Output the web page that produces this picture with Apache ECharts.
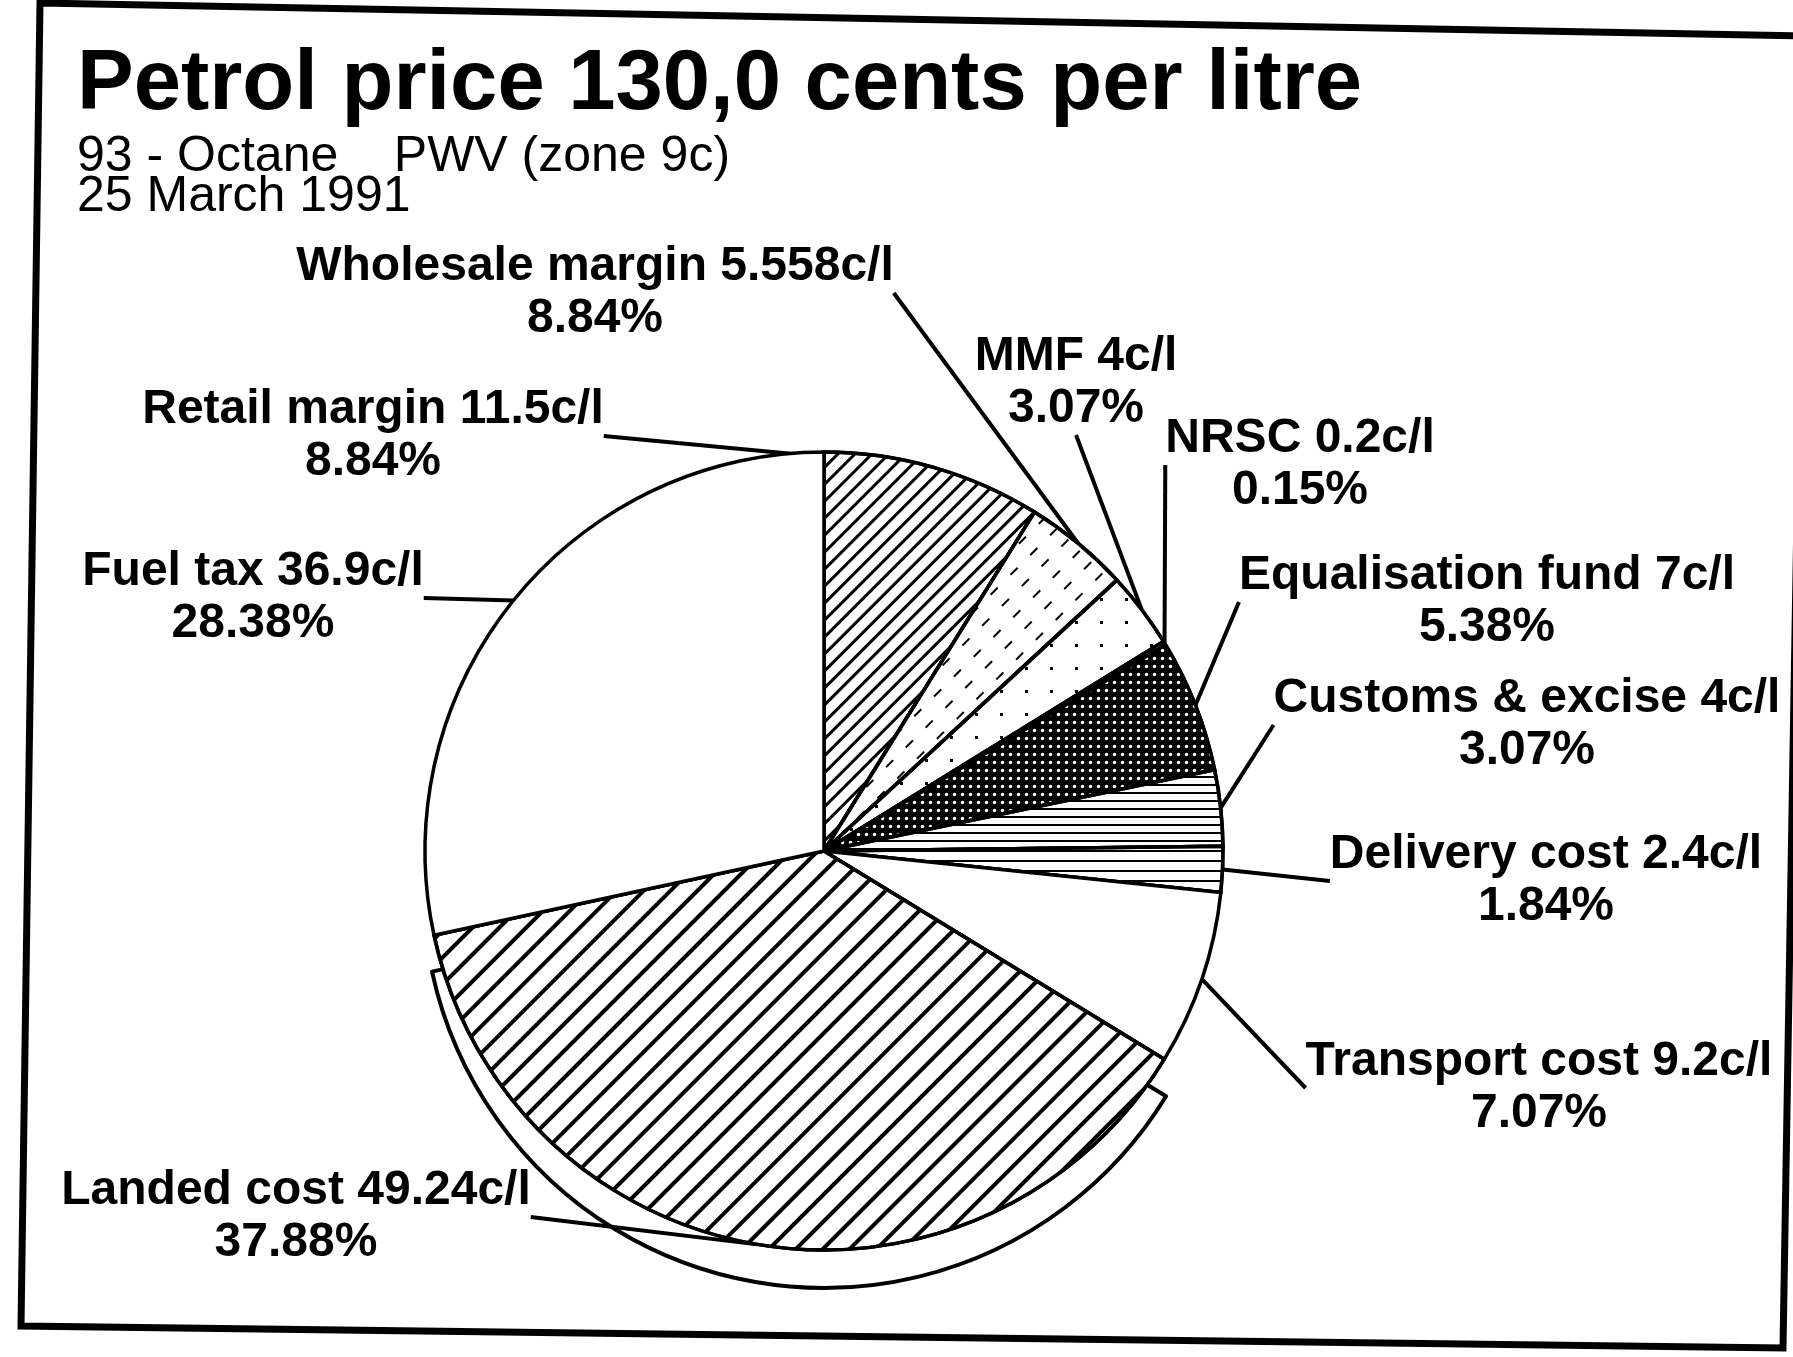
<!DOCTYPE html>
<html>
<head>
<meta charset="utf-8">
<script src="https://cdn.jsdelivr.net/npm/echarts@6/dist/echarts.min.js"></script>
<style>
html,body{margin:0;padding:0;background:#fff;}
#chart{width:1793px;height:1357px;}
</style>
</head>
<body>
<div id="chart"></div>
<script>
// ---- data ----
const categories = ['Retail margin', 'Wholesale margin', 'MMF', 'NRSC', 'Equalisation fund',
                    'Customs & excise', 'Delivery cost', 'Transport cost', 'Landed cost', 'Fuel tax'];
const centsPerLitre = [11.5, 5.558, 4, 0.2, 7, 4, 2.4, 9.2, 49.24, 36.9];
const printedPercent = ['8.84%', '8.84%', '3.07%', '0.15%', '5.38%', '3.07%', '1.84%', '7.07%', '37.88%', '28.38%'];
const titleText = 'Petrol price 130,0 cents per litre';
const subtitleLines = ['93 - Octane    PWV (zone 9c)', '25 March 1991'];

// ---- layout / style (not data) ----
const labelCenters = [
  [373, 436], [595, 293], [1076, 383], [1300, 465], [1487, 602],
  [1527, 725], [1546, 881], [1539, 1088], [296, 1217], [253, 598]
];
const hatch = (w, gap, rot, color) => ({
  symbol: 'rect', symbolSize: 1, color: color || '#000',
  dashArrayX: [1, 0], dashArrayY: [w, gap], rotation: rot
});
const DIAG = -Math.PI / 4;
const sliceStyles = {
  'Retail margin': { color: '#fff', decal: hatch(3, 9, DIAG) },
  'Wholesale margin': { color: '#fff', decal: { symbol: 'rect', symbolSize: 1, color: '#000', dashArrayX: [[10, 18]], dashArrayY: [2, 14], rotation: DIAG } },
  'MMF': { color: '#fff', decal: { symbol: 'rect', symbolSize: 1, color: '#000', dashArrayX: [[3, 22]], dashArrayY: [3, 20], rotation: 0 } },
  'NRSC': { color: '#fff' },
  'Equalisation fund': { color: '#000', decal: { symbol: 'circle', symbolSize: 0.7, color: '#fff', dashArrayX: [5, 3], dashArrayY: [5, 3], rotation: 0 } },
  'Customs & excise': { color: '#fff', decal: hatch(2, 6, 0) },
  'Delivery cost': { color: '#fff', decal: hatch(2, 8, 0) },
  'Transport cost': { color: '#fff' },
  'Landed cost': { color: '#fff', decal: hatch(4, 15, DIAG) },
  'Fuel tax': { color: '#fff' }
};

const pieCenter = [824, 851];
const pieRadius = 399;

const mainData = categories.map((name, i) => ({
  name: name,
  value: centsPerLitre[i],
  itemStyle: Object.assign({ borderColor: '#000', borderWidth: 3.5 }, sliceStyles[name])
}));
const rimData = categories.map((name, i) => ({
  name: name,
  value: centsPerLitre[i],
  itemStyle: name === 'Landed cost'
    ? { color: '#fff', borderColor: '#000', borderWidth: 4 }
    : { color: 'rgba(0,0,0,0)', borderWidth: 0 }
}));

const chart = echarts.init(document.getElementById('chart'), null, { renderer: 'canvas' });
chart.setOption({
  backgroundColor: '#fff',
  animation: false,
  title: {
    text: titleText,
    subtext: subtitleLines.join('\n'),
    left: 72,
    top: 38,
    itemGap: 9,
    textStyle: { fontFamily: 'Liberation Sans', fontWeight: 'bold', fontSize: 85, color: '#000' },
    subtextStyle: { fontFamily: 'Liberation Sans', fontWeight: 'normal', fontSize: 50, lineHeight: 40, color: '#000' }
  },
  graphic: [{
    type: 'polygon',
    silent: true,
    z: 100,
    shape: { points: [[40, 3], [1805, 36], [1783, 1348], [21, 1326]] },
    style: { fill: 'none', stroke: '#000', lineWidth: 7 }
  }],
  series: [
    {
      type: 'pie',
      name: 'rim',
      silent: true,
      z: 1,
      center: [pieCenter[0], pieCenter[1] + 36],
      radius: [0, pieRadius + 2],
      startAngle: 90,
      clockwise: true,
      label: { show: false },
      labelLine: { show: false },
      emphasis: { disabled: true },
      data: rimData
    },
    {
      type: 'pie',
      name: 'Petrol price',
      z: 2,
      center: pieCenter,
      radius: [0, pieRadius],
      startAngle: 90,
      clockwise: true,
      avoidLabelOverlap: false,
      emphasis: { disabled: true },
      label: {
        show: true,
        position: 'outside',
        fontFamily: 'Liberation Sans',
        fontWeight: 'bold',
        fontSize: 48,
        lineHeight: 52,
        color: '#000',
        formatter: p => p.name + ' ' + p.value + 'c/l\n' + printedPercent[p.dataIndex]
      },
      labelLine: { show: true, length: 10, length2: 0, lineStyle: { color: '#000', width: 4 } },
      labelLayout: params => {
        const c = labelCenters[params.dataIndex];
        return { x: c[0], y: c[1], align: 'center', verticalAlign: 'middle' };
      },
      data: mainData
    }
  ]
});
</script>
</body>
</html>
